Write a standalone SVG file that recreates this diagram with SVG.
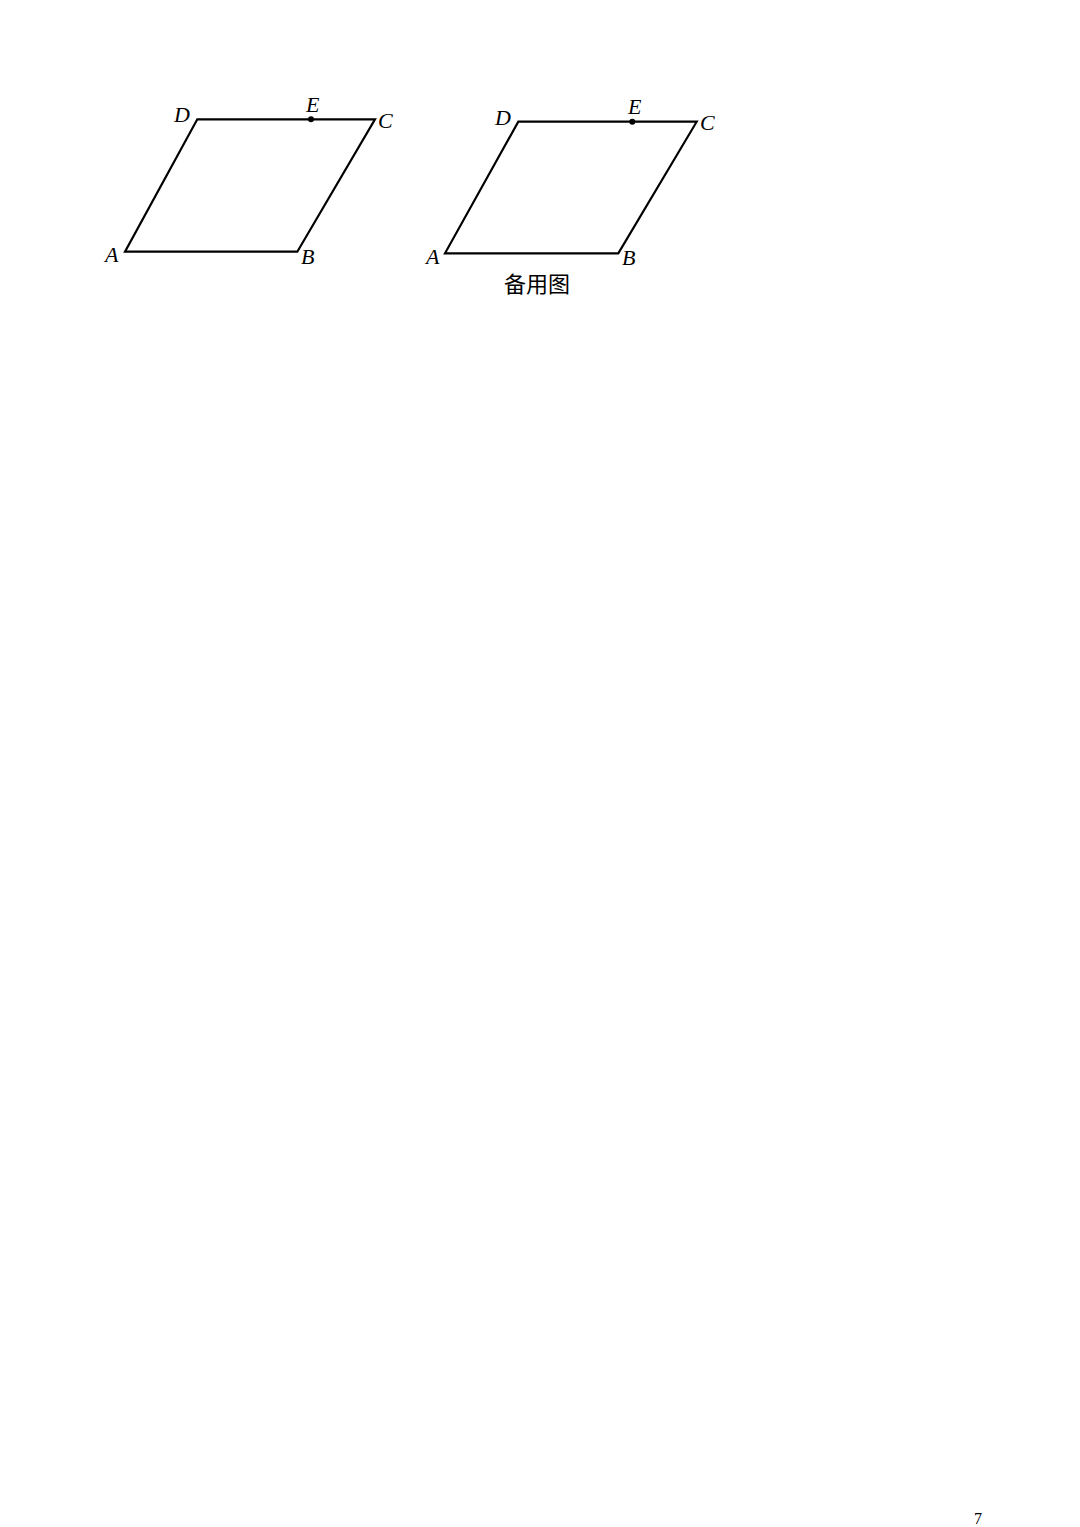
<svg xmlns="http://www.w3.org/2000/svg" width="1080" height="1527" viewBox="0 0 1080 1527">
<style>
.edge{fill:none;stroke:#000;stroke-width:2.2;stroke-linejoin:miter}
.lbl{font-family:"Liberation Serif","Times New Roman",serif;font-style:italic;font-size:22px;fill:#000}
.cap{font-family:"Liberation Serif","Noto Sans CJK SC",sans-serif;font-size:22px;fill:#000}
.pg{font-family:"Liberation Serif",serif;font-size:16px;fill:#000}
</style>
<rect width="1080" height="1527" fill="#fff"/>
<g id="connectors">
<polygon class="edge" points="125,251.7 297.3,251.7 375,119.3 197.3,119.3"/>
<polygon class="edge" points="445,253.3 618.3,253.3 696.7,121.7 518.3,121.7"/>
</g>
<g id="fig1">
<circle cx="311" cy="119.3" r="3" fill="#000"/>
<text class="lbl" x="105" y="262">A</text>
<text class="lbl" x="301" y="264">B</text>
<text class="lbl" x="378" y="128">C</text>
<text class="lbl" x="174" y="122">D</text>
<text class="lbl" x="306" y="112">E</text>
</g>
<g id="fig2">
<circle cx="632.3" cy="121.7" r="3" fill="#000"/>
<text class="lbl" x="426" y="264">A</text>
<text class="lbl" x="622" y="265">B</text>
<text class="lbl" x="700" y="130">C</text>
<text class="lbl" x="495" y="125">D</text>
<text class="lbl" x="628" y="114">E</text>
<text class="cap" x="537" y="292" text-anchor="middle">备用图</text>
</g>
<text class="pg" x="974" y="1524">7</text>
</svg>
